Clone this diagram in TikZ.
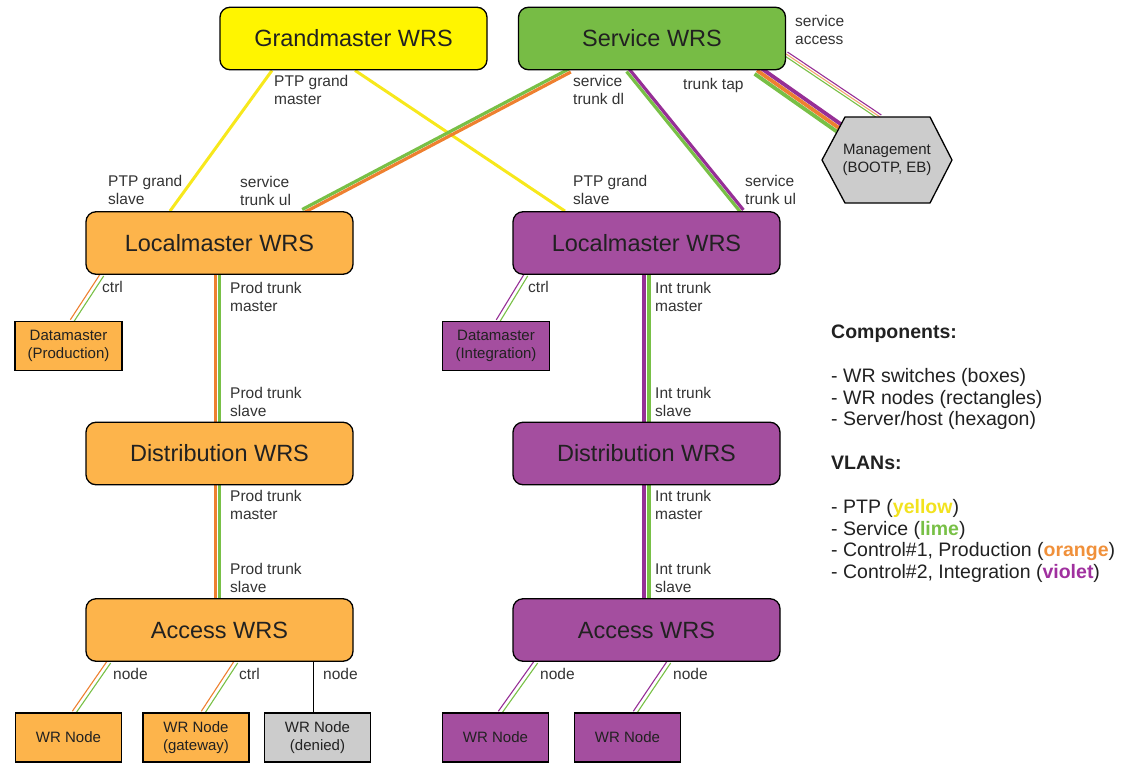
\documentclass[tikz,border=0pt]{standalone}
\usepackage{fontspec}
\setmainfont{Liberation Sans}
\usetikzlibrary{calc,positioning}
\pgfdeclarelayer{background}
\pgfsetlayers{background,main}

\definecolor{gmyellow}{HTML}{FFF500}
\definecolor{svcgreen}{HTML}{77BC45}
\definecolor{prodbox}{HTML}{FDB44B}
\definecolor{intbox}{HTML}{A44E9F}
\definecolor{ptpyellow}{HTML}{F7E81C}
\definecolor{svclime}{HTML}{78C046}
\definecolor{prodorange}{HTML}{EE8030}
\definecolor{intviolet}{HTML}{962F96}
\definecolor{ptptext}{HTML}{F2E21E}
\definecolor{prodtext}{HTML}{F0903A}
\definecolor{inttext}{HTML}{A0309F}

% parallel vlan lines: from, to, width, colour/offset list
\newcommand{\vlan}[4]{\foreach \c/\o in {#4}
  \draw[draw=\c, line width=#3] ($(#1)!\o!90:(#2)$) -- ($(#2)!\o!-90:(#1)$);}

\begin{document}
\begin{tikzpicture}[x=1pt,y=-1pt,
  wrs/.style={draw=black, line width=1.3pt, rounded corners=10pt, minimum width=267pt,
    minimum height=62.5pt, inner sep=0pt, text=black!87, font=\fontsize{23.5}{28}\selectfont},
  wrnode/.style={draw=black, line width=1.3pt, minimum width=106pt, minimum height=49pt,
    inner sep=0pt, align=center, text=black!87, font=\fontsize{15}{17.5}\selectfont},
  lbl/.style={anchor=north west, inner sep=0pt, align=left, text=black!80,
    font=\fontsize{15.5}{18}\selectfont},
  hexa/.style={draw=black, line width=1.3pt, fill=gray!40}]
\useasboundingbox (0,0) rectangle (1127,763);

\node[wrs, fill=gmyellow] (gm) at (353.5,38.5) {Grandmaster WRS};
\node[wrs, fill=svcgreen] (svc) at (652,38.5) {Service WRS};

\coordinate (mgmt) at (887,160);
\draw[hexa] ($(mgmt)+(-65,0)$) -- ($(mgmt)+(-42,-43)$) -- ($(mgmt)+(43,-43)$)
  -- ($(mgmt)+(65,0)$) -- ($(mgmt)+(43,43)$) -- ($(mgmt)+(-42,43)$) -- cycle;
\node[align=center, text=black!87, font=\fontsize{15}{18}\selectfont] (mgmttext) at (mgmt) {Management\\(BOOTP, EB)};

\node[wrs, fill=prodbox] (lmo) at (219.5,243) {Localmaster WRS};
\node[wrs, fill=intbox] (lmv) at (646.5,243) {Localmaster WRS};
\node[wrnode, fill=prodbox, minimum width=107pt] (dmo) at (68.5,346) {Datamaster\\(Production)};
\node[wrnode, fill=intbox, minimum width=107pt] (dmv) at (496,346) {Datamaster\\(Integration)};
\node[wrs, fill=prodbox] (diso) at (219.5,453.5) {Distribution WRS};
\node[wrs, fill=intbox] (disv) at (646.5,453.5) {Distribution WRS};
\node[wrs, fill=prodbox] (acco) at (219.5,630) {Access WRS};
\node[wrs, fill=intbox] (accv) at (646.5,630) {Access WRS};
\node[wrnode, fill=prodbox] (wr1) at (68.5,737.5) {WR Node};
\node[wrnode, fill=prodbox] (wr2) at (196,737.5) {WR Node\\(gateway)};
\node[wrnode, fill=gray!40] (wr3) at (317.5,737.5) {WR Node\\(denied)};
\node[wrnode, fill=intbox] (wr4) at (495.5,737.5) {WR Node};
\node[wrnode, fill=intbox] (wr5) at (627.5,737.5) {WR Node};

\begin{pgfonlayer}{background}
\vlan{[xshift=-81.5]gm.south}{[xshift=-49.5]lmo.north}{3pt}{ptpyellow/0pt}
\vlan{[xshift=1.5]gm.south}{[xshift=-81.5]lmv.north}{3pt}{ptpyellow/0pt}
\vlan{[xshift=-82]svc.south}{[xshift=83.5]lmo.north}{3.2pt}{svclime/-1.8pt,prodorange/1.8pt}
\vlan{[xshift=-24]svc.south}{[xshift=95.5]lmv.north}{3.2pt}{svclime/-1.8pt,intviolet/1.8pt}
\vlan{[xshift=105]svc.south}{[xshift=-48,yshift=32]mgmt}{3.8pt}{svclime/-4.2pt,prodorange/0pt,intviolet/4.2pt}
\vlan{[yshift=-15.5]svc.east}{[xshift=-7,yshift=43]mgmt}{1.1pt}{svclime/-2.4pt,prodorange!70/0pt,intviolet/2.4pt}
\vlan{[xshift=-117.5]lmo.south}{[xshift=3.5]dmo.north}{1.1pt}{prodorange/-2pt,svclime/2pt}
\vlan{[xshift=-2]lmo.south}{[xshift=-2]diso.north}{3.4pt}{prodorange/-2.2pt,svclime/2.2pt}
\vlan{[xshift=-2]diso.south}{[xshift=-2]acco.north}{3.4pt}{prodorange/-2.2pt,svclime/2.2pt}
\vlan{[xshift=-120.5]lmv.south}{[xshift=2]dmv.north}{1.1pt}{intviolet/-2pt,svclime/2pt}
\vlan{lmv.south}{disv.north}{3.4pt}{intviolet/-2.4pt,svclime/2.4pt}
\vlan{disv.south}{accv.north}{3.4pt}{intviolet/-2.4pt,svclime/2.4pt}
\vlan{[xshift=-110.5]acco.south}{[xshift=5.5]wr1.north}{1.1pt}{prodorange/-2pt,svclime/2pt}
\vlan{[xshift=16.5]acco.south}{[xshift=7]wr2.north}{1.1pt}{prodorange/-2pt,svclime/2pt}
\draw[line width=1pt] ([xshift=93.5]acco.south) -- ([xshift=-4.5]wr3.north);
\vlan{[xshift=-110.5]accv.south}{[xshift=4.5]wr4.north}{1.1pt}{intviolet/-2pt,svclime/2pt}
\vlan{[xshift=22.5]accv.south}{[xshift=7.5]wr5.north}{1.1pt}{intviolet/-2pt,svclime/2pt}
\end{pgfonlayer}

\node[lbl] (l1) at (274,75) {PTP grand\\master};
\node[lbl] (l2) at (573,75) {service\\trunk dl};
\node[lbl] (l3) at (683,78) {trunk tap};
\node[lbl] (l4) at (795,15) {service\\access};
\node[lbl] (l5) at (108,175) {PTP grand\\slave};
\node[lbl] (l6) at (240,176) {service\\trunk ul};
\node[lbl] (l7) at (573,175) {PTP grand\\slave};
\node[lbl] (l8) at (745,175) {service\\trunk ul};
\node[lbl] (l9) at (102,281) {ctrl};
\node[lbl] (l10) at (230,282) {Prod trunk\\master};
\node[lbl] (l11) at (230,387) {Prod trunk\\slave};
\node[lbl] (l12) at (528,281) {ctrl};
\node[lbl] (l13) at (655,282) {Int trunk\\master};
\node[lbl] (l14) at (655,387) {Int trunk\\slave};
\node[lbl] (l15) at (230,490) {Prod trunk\\master};
\node[lbl] (l16) at (230,563) {Prod trunk\\slave};
\node[lbl] (l17) at (655,490) {Int trunk\\master};
\node[lbl] (l18) at (655,563) {Int trunk\\slave};
\node[lbl] (l19) at (113,668) {node};
\node[lbl] (l20) at (239,668) {ctrl};
\node[lbl] (l21) at (323,668) {node};
\node[lbl] (l22) at (540,668) {node};
\node[lbl] (l23) at (673,668) {node};

\node[anchor=north west, inner sep=0pt, align=left, text=black!87,
  font=\fontsize{19.5}{21.7}\selectfont] (legend) at (831,325)
  {\textbf{Components:}\\[22pt]
   - WR switches (boxes)\\
   - WR nodes (rectangles)\\
   - Server/host (hexagon)\\[22pt]
   \textbf{VLANs:}\\[22pt]
   - PTP (\textcolor{ptptext}{\textbf{yellow}})\\
   - Service (\textcolor{svclime}{\textbf{lime}})\\
   - Control\#1, Production (\textcolor{prodtext}{\textbf{orange}})\\
   - Control\#2, Integration (\textcolor{inttext}{\textbf{violet}})};
\end{tikzpicture}
\end{document}
